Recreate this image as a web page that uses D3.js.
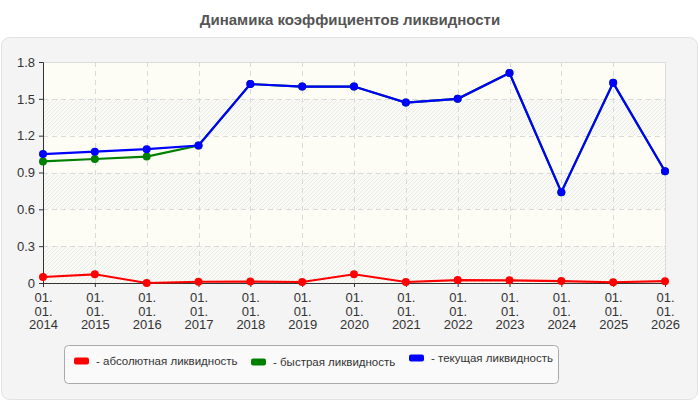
<!DOCTYPE html>
<html>
<head>
<meta charset="utf-8">
<script src="https://cdn.jsdelivr.net/npm/d3@7"></script>
<style>
  body { margin: 0; background: #fff; font-family: "Liberation Sans", Arial, sans-serif; }
</style>
</head>
<body>
<div id="main"></div>
<script>
var years = ["2014", "2015", "2016", "2017", "2018", "2019", "2020", "2021", "2022", "2023", "2024", "2025", "2026"];
var absLiq = [0.049, 0.071, 0.0, 0.01, 0.012, 0.008, 0.071, 0.008, 0.024, 0.022, 0.016, 0.006, 0.015];
var quickLiq = [0.99, 1.01, 1.03, 1.12, 1.62, 1.60, 1.60, 1.47, 1.50, 1.71, 0.74, 1.63, 0.91];
var currLiq = [1.05, 1.07, 1.09, 1.12, 1.62, 1.60, 1.60, 1.47, 1.50, 1.71, 0.74, 1.63, 0.91];
var yTicks = [0, 0.3, 0.6, 0.9, 1.2, 1.5, 1.8];
var seriesNames = ["- абсолютная ликвидность", "- быстрая ликвидность", "- текущая ликвидность"];
var seriesColors = ["#ff0000", "#008000", "#0000ff"];

var W = 700, H = 400;
var margin = { top: 62, right: 35, bottom: 117, left: 43 };
var width = W - margin.left - margin.right;
var height = H - margin.top - margin.bottom;

var svg = d3.select("#main")
  .append("svg")
  .attr("width", W)
  .attr("height", H);

var defs = svg.append("defs");
var pat = defs.append("pattern")
  .attr("id", "hatch")
  .attr("patternUnits", "userSpaceOnUse")
  .attr("width", 4)
  .attr("height", 4);
pat.append("rect").attr("width", 4).attr("height", 4).attr("fill", "#fbfbf6");
pat.append("path")
  .attr("d", "M-1,1 l2,-2 M0,4 l4,-4 M3,5 l2,-2")
  .attr("stroke", "#eaeaea")
  .attr("stroke-width", 1);

// title
svg.append("text")
  .attr("x", W / 2)
  .attr("y", 25)
  .attr("text-anchor", "middle")
  .style("font-size", "15px")
  .style("font-weight", "bold")
  .style("fill", "#555")
  .text("Динамика коэффициентов ликвидности");

// panel
svg.append("rect")
  .attr("x", 1.5).attr("y", 37.5)
  .attr("width", 696).attr("height", 362)
  .attr("rx", 8)
  .attr("fill", "#f4f4f4")
  .attr("stroke", "#e2e2e2");

var g = svg.append("g")
  .attr("transform", "translate(" + margin.left + "," + margin.top + ")");

var x = d3.scalePoint()
  .domain(years)
  .range([0, width]);

var y = d3.scaleLinear()
  .domain([0, 1.8])
  .range([height, 0]);

// plot background with bands
g.append("rect")
  .attr("width", width).attr("height", height)
  .attr("fill", "#fdfdf6");
for (var i = 0; i < yTicks.length - 1; i += 2) {
  g.append("rect")
    .attr("x", 0)
    .attr("y", y(yTicks[i + 1]))
    .attr("width", width)
    .attr("height", y(yTicks[i]) - y(yTicks[i + 1]))
    .attr("fill", "url(#hatch)");
}
g.append("rect")
  .attr("x", 0.5).attr("y", 0.5)
  .attr("width", width).attr("height", height)
  .attr("fill", "none")
  .attr("stroke", "#dcdcdc");

// grid
g.selectAll(".hgrid")
  .data(yTicks.slice(1, -1))
  .enter()
  .append("line")
  .attr("x1", 0).attr("x2", width)
  .attr("y1", d => Math.round(y(d)) + 0.5)
  .attr("y2", d => Math.round(y(d)) + 0.5)
  .attr("stroke", "#dadada")
  .attr("stroke-dasharray", "5,4");
g.selectAll(".vgrid")
  .data(years.slice(1, -1))
  .enter()
  .append("line")
  .attr("x1", d => Math.round(x(d)) + 0.5)
  .attr("x2", d => Math.round(x(d)) + 0.5)
  .attr("y1", 0).attr("y2", height)
  .attr("stroke", "#dadada")
  .attr("stroke-dasharray", "5,4");

// axes
var yAxis = g.append("g")
  .call(d3.axisLeft(y).tickValues(yTicks).tickSize(4).tickPadding(4)
    .tickFormat(d => d === 0 ? "0" : d3.format(".1f")(d)));
yAxis.select(".domain").attr("stroke", "#333");
yAxis.selectAll(".tick line").attr("stroke", "#333");
yAxis.selectAll("text").style("font-size", "13px").style("fill", "#333")
  .style("font-family", "'Liberation Sans', Arial, sans-serif");

var xAxis = g.append("g")
  .attr("transform", "translate(0," + height + ")")
  .call(d3.axisBottom(x).tickSize(4).tickFormat(""));
xAxis.select(".domain").attr("stroke", "#333");
xAxis.selectAll(".tick line").attr("stroke", "#333");
xAxis.selectAll(".tick").each(function(d) {
  var t = d3.select(this).append("text")
    .attr("text-anchor", "middle")
    .style("font-size", "13px")
    .style("fill", "#333")
    .style("font-family", "'Liberation Sans', Arial, sans-serif");
  ["01.", "01.", d].forEach(function(s, k) {
    t.append("tspan").attr("x", 0).attr("y", 19 + k * 13.5).text(s);
  });
});

// lines
var series = [absLiq, quickLiq, currLiq];
var line = d3.line()
  .x((d, i) => x(years[i]))
  .y(d => y(d));

series.forEach(function(s, k) {
  g.append("path")
    .datum(s)
    .attr("d", line)
    .attr("fill", "none")
    .attr("stroke", seriesColors[k])
    .attr("stroke-width", 2.2);
  g.selectAll(".dot" + k)
    .data(s)
    .enter()
    .append("circle")
    .attr("cx", (d, i) => x(years[i]))
    .attr("cy", d => y(d))
    .attr("r", 4)
    .attr("fill", seriesColors[k]);
});

// legend
svg.append("rect")
  .attr("x", 64.5).attr("y", 345.5)
  .attr("width", 494).attr("height", 38)
  .attr("rx", 4)
  .attr("fill", "#fafafa")
  .attr("stroke", "#aaa");

var legendX = [74, 251, 409];
var legendY = [361, 362, 358];
seriesNames.forEach(function(n, k) {
  svg.append("rect")
    .attr("x", legendX[k]).attr("y", legendY[k] - 3.5)
    .attr("width", 15).attr("height", 7)
    .attr("rx", 2)
    .attr("fill", seriesColors[k]);
  svg.append("text")
    .attr("x", legendX[k] + 22)
    .attr("y", legendY[k] + 4)
    .style("font-size", "11.5px")
    .style("fill", "#333")
    .text(n);
});
</script>
</body>
</html>
